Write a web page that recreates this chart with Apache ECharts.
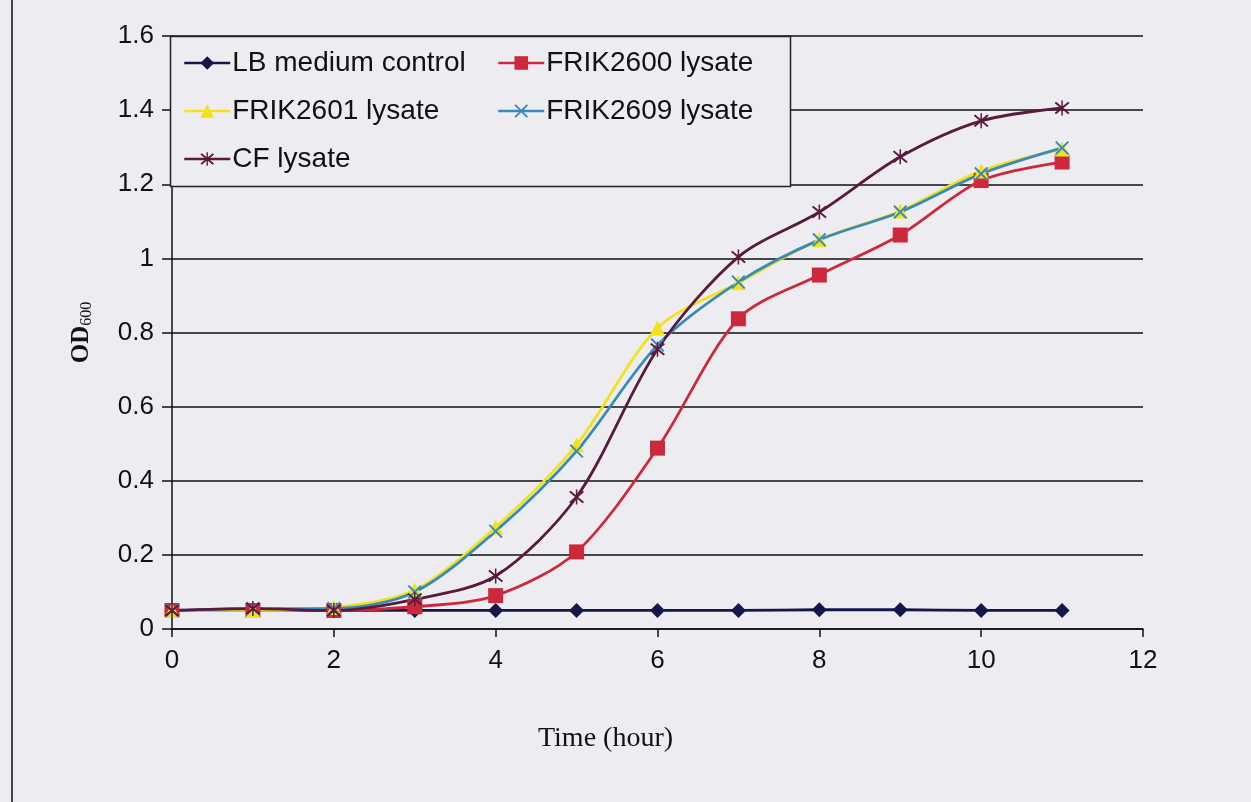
<!DOCTYPE html>
<html>
<head>
<meta charset="utf-8">
<script src="https://cdn.jsdelivr.net/npm/echarts@6/dist/echarts.min.js"></script>
<style>
  html, body { margin: 0; padding: 0; background: #ececf1; }
  #chart { width: 1251px; height: 802px; }
</style>
</head>
<body>
<div id="chart"></div>
<script>
// hours
const hours = [0, 1, 2, 3, 4, 5, 6, 7, 8, 9, 10, 11];
// OD600 values
const lbControl = [0.05, 0.05, 0.05, 0.05, 0.05, 0.05, 0.05, 0.05, 0.052, 0.052, 0.05, 0.05];
const frik2600 = [0.05, 0.05, 0.05, 0.06, 0.09, 0.208, 0.488, 0.837, 0.955, 1.063, 1.21, 1.26];
const frik2601 = [0.05, 0.05, 0.058, 0.105, 0.275, 0.497, 0.812, 0.934, 1.05, 1.128, 1.236, 1.295];
const frik2609 = [0.05, 0.055, 0.055, 0.1, 0.264, 0.48, 0.766, 0.936, 1.05, 1.125, 1.228, 1.298];
const cfLysate = [0.05, 0.055, 0.05, 0.08, 0.143, 0.356, 0.755, 1.004, 1.125, 1.274, 1.371, 1.406];

const crossPath = "path://M0,1 L1,0 L10,9 L9,10 Z M9,0 L10,1 L1,10 L0,9 Z";
const starPath = "path://M0,1 L1,0 L10,9 L9,10 Z M9,0 L10,1 L1,10 L0,9 Z M4.5,-1 L5.5,-1 L5.5,11 L4.5,11 Z";

function pairs(vals) {
  return hours.map((h, i) => [h, vals[i]]);
}

function mkSeries(name, vals, color, symbol, size) {
  return {
    name: name,
    type: "line",
    data: pairs(vals),
    smooth: 0.3,
    symbol: symbol,
    symbolSize: size,
    showAllSymbol: true,
    lineStyle: { color: color, width: 2.8 },
    itemStyle: { color: color },
    z: 3
  };
}

const chart = echarts.init(document.getElementById("chart"));
const legendText = { fontFamily: "Liberation Sans, Arial", fontSize: 28, color: "#111", padding: [0, 0, 0, -3] };

let option = {
  backgroundColor: "#ececf1",
  animation: false,
  grid: { left: 172, right: 108, top: 36, bottom: 173 },
  legend: [
    {
      data: ["LB medium control", "FRIK2601 lysate", "CF lysate"],
      orient: "vertical",
      left: 178, top: 44,
      itemWidth: 46, itemHeight: 17, itemGap: 20,
      textStyle: legendText,
      lineStyle: { width: 2.5 },
      z: 10
    },
    {
      data: ["FRIK2600 lysate", "FRIK2609 lysate"],
      orient: "vertical",
      left: 492, top: 44,
      itemWidth: 46, itemHeight: 17, itemGap: 20,
      textStyle: legendText,
      lineStyle: { width: 2.5 },
      z: 10
    }
  ],
  graphic: [
    {
      type: "rect",
      shape: { x: 170.5, y: 36.5, width: 620, height: 150 },
      style: { fill: "#ececf1", stroke: "#222", lineWidth: 1.5 },
      z: 5
    },
    {
      type: "line",
      shape: { x1: 12, y1: 0, x2: 12, y2: 802 },
      style: { stroke: "#444", lineWidth: 2 }
    }
  ],
  xAxis: {
    type: "value",
    min: 0, max: 12, interval: 2,
    name: "Time (hour)",
    nameLocation: "middle",
    nameGap: 96,
    nameTextStyle: { fontFamily: "Liberation Serif, Times New Roman", fontSize: 28, color: "#111", padding: [0, 104, 0, 0] },
    axisLine: { lineStyle: { color: "#111", width: 1.5 } },
    axisTick: { show: true, length: 8, inside: false, lineStyle: { color: "#111", width: 1.5 } },
    axisLabel: { fontFamily: "Liberation Sans, Arial", fontSize: 26, color: "#111", margin: 19 },
    splitLine: { show: false }
  },
  yAxis: {
    type: "value",
    min: 0, max: 1.6, interval: 0.2,
    name: "{a|OD}{b|600}",
    nameLocation: "middle",
    nameRotate: 90,
    nameGap: 77,
    nameTextStyle: {
      rich: {
        a: { fontFamily: "Liberation Serif, Times New Roman", fontWeight: "bold", fontSize: 25, color: "#111" },
        b: { fontFamily: "Liberation Serif, Times New Roman", fontSize: 16, color: "#111", padding: [10, 0, 0, 0] }
      }
    },
    axisLine: { show: true, lineStyle: { color: "#111", width: 1.5 } },
    axisTick: { show: true, length: 10, lineStyle: { color: "#111", width: 1.5 } },
    axisLabel: {
      fontFamily: "Liberation Sans, Arial", fontSize: 26, color: "#111", margin: 18,
      formatter: v => (Math.round(v * 10) / 10).toString()
    },
    splitLine: { show: true, lineStyle: { color: "#111", width: 1.5 } }
  },
  series: [
    mkSeries("LB medium control", lbControl, "#16164a", "diamond", 15),
    mkSeries("FRIK2600 lysate", frik2600, "#cc2a3c", "rect", 15),
    mkSeries("FRIK2601 lysate", frik2601, "#f2e21a", "triangle", 15),
    mkSeries("FRIK2609 lysate", frik2609, "#3a8ab8", crossPath, 14),
    mkSeries("CF lysate", cfLysate, "#5a1a3e", starPath, 15)
  ]
};

chart.setOption(option);
</script>
</body>
</html>
